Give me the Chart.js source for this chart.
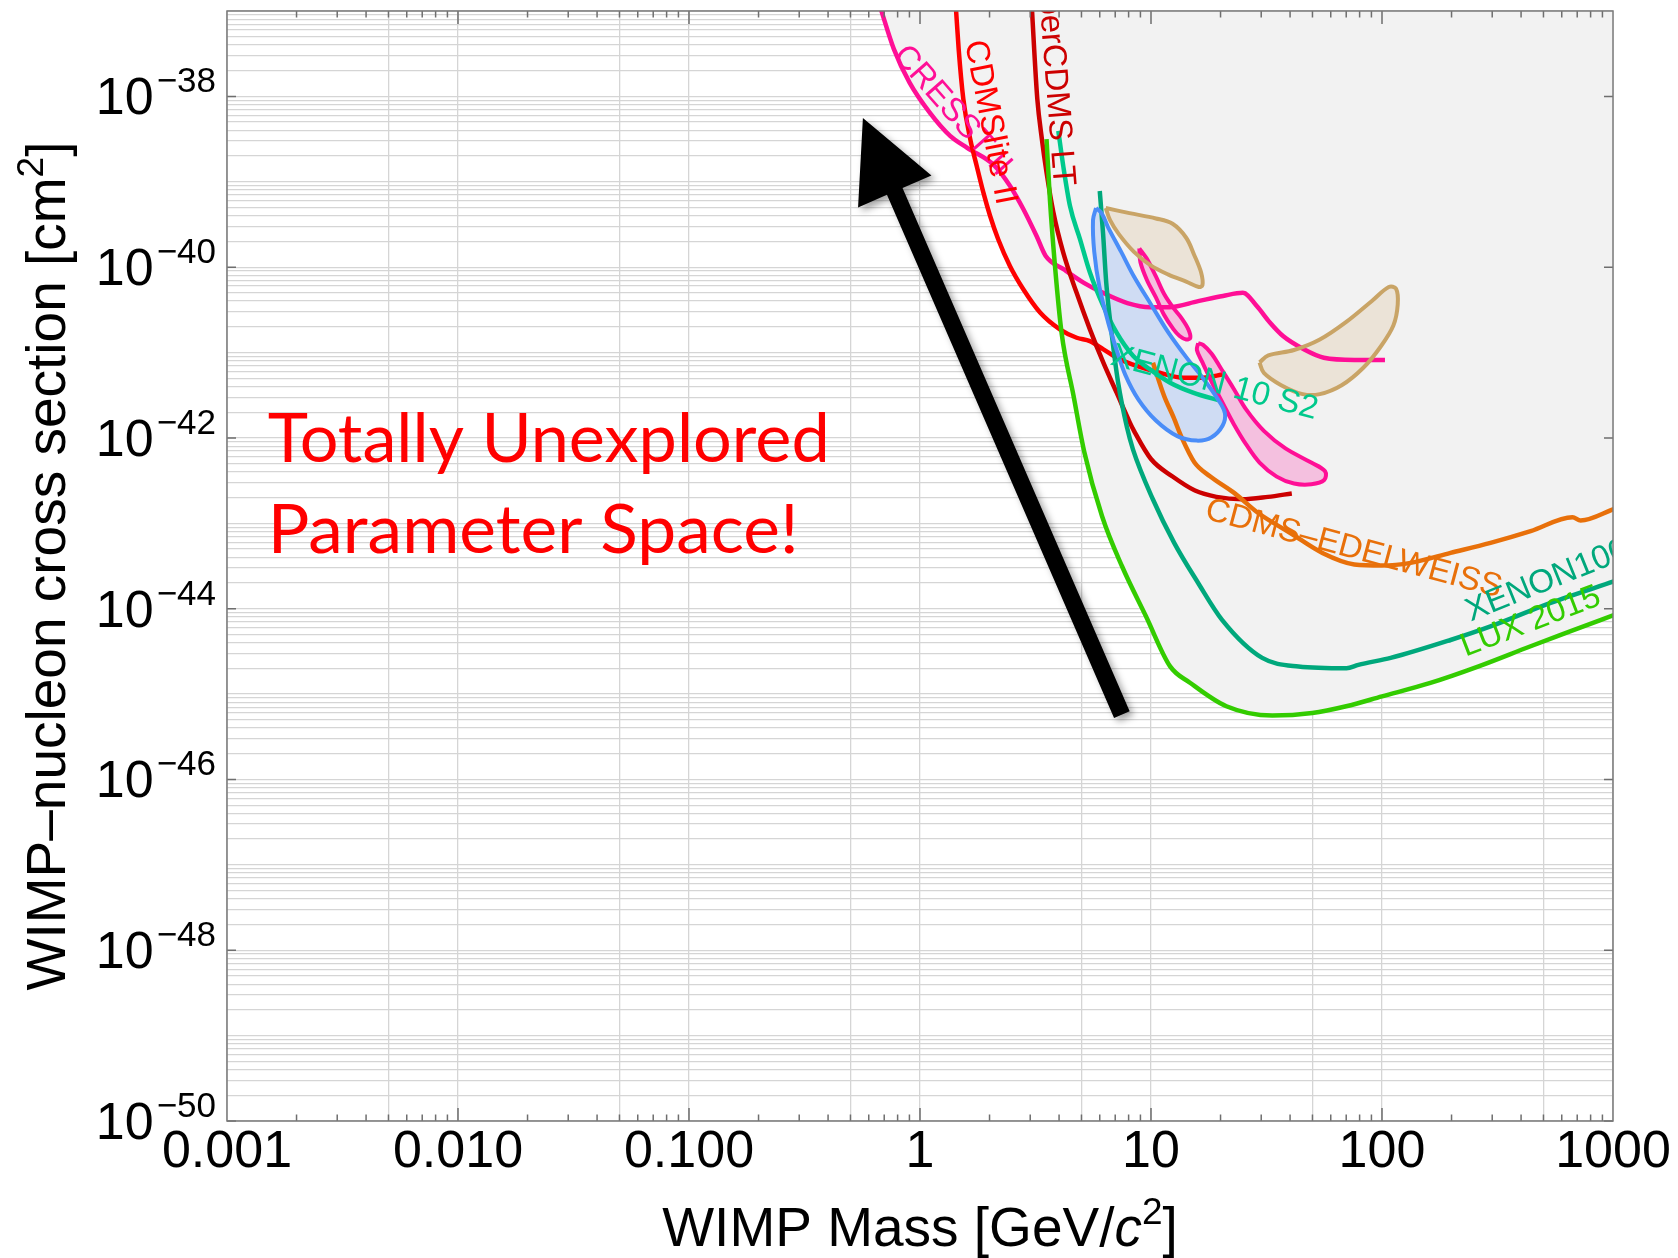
<!DOCTYPE html>
<html>
<head>
<meta charset="utf-8">
<script src="https://cdn.jsdelivr.net/npm/chart.js@4.4.1/dist/chart.umd.min.js"></script>
<style>
  html, body { margin: 0; padding: 0; background: #fff; }
</style>
</head>
<body>
<canvas id="chart" width="1678" height="1258"></canvas>
<script>
// tick labels
const xTickValues = [0.001, 0.01, 0.1, 1, 10, 100, 1000];
const xTickLabels = ['0.001', '0.010', '0.100', '1', '10', '100', '1000'];
const yTickValues = [1e-38, 1e-40, 1e-42, 1e-44, 1e-46, 1e-48, 1e-50];
const yTickExponents = ['\u221238', '\u221240', '\u221242', '\u221244', '\u221246', '\u221248', '\u221250'];

// exclusion limits: WIMP mass [GeV/c2] and cross section [cm2]
const cresstMass = [0.67, 0.77, 0.9, 1.1, 1.35, 1.6, 2.1, 2.45, 2.8, 3.2, 3.5, 4.2, 5.1, 6.2, 7.9, 9.9, 12, 16, 20.5, 25, 28.7, 32.7, 37.4, 45.7, 56, 76, 103];
const cresstSigma = [1.15e-37, 3.6e-38, 1.46e-38, 6.5e-39, 3.45e-39, 2.5e-39, 1.55e-39, 9e-40, 4.8e-40, 2.3e-40, 1.35e-40, 9.4e-41, 6.6e-41, 5e-41, 3.8e-41, 3.4e-41, 3.4e-41, 4e-41, 4.6e-41, 5e-41, 3.5e-41, 2.25e-41, 1.55e-41, 1.1e-41, 8.7e-42, 8.2e-42, 8.2e-42];

const cdmsliteMass = [1.43, 1.47, 1.54, 1.65, 1.76, 1.88, 2.01, 2.18, 2.45, 2.8, 3.31, 4.03, 4.77, 5.44, 6.22, 7.1, 8.67, 10.9, 13.8, 16.8, 20.6];
const cdmsliteSigma = [1.1e-37, 3.6e-38, 9.3e-39, 3.16e-39, 1.53e-39, 7.5e-40, 4e-40, 2.12e-40, 1.03e-40, 5.5e-41, 2.94e-41, 1.87e-41, 1.49e-41, 1.36e-41, 1.09e-41, 8.7e-42, 6.96e-42, 5.8e-42, 5.08e-42, 5.08e-42, 5.56e-42];

const scdmsMass = [3.05, 3.12, 3.22, 3.37, 3.53, 3.78, 4.17, 4.76, 5.44, 6.22, 7.1, 8.1, 8.44, 10.0, 12.4, 15.5, 19.2, 24.8, 32.1, 40.7];
const scdmsSigma = [1.1e-37, 3.6e-38, 9.3e-39, 3.16e-39, 1.29e-39, 4.37e-40, 1.48e-40, 5.04e-41, 1.87e-41, 7.6e-42, 3.39e-42, 1.51e-42, 1.21e-42, 5.66e-43, 3.53e-43, 2.42e-43, 2.04e-43, 1.91e-43, 2.04e-43, 2.24e-43];

const luxMass = [3.53, 3.65, 3.84, 4.1, 4.62, 5.14, 6.14, 7.49, 9.52, 12.1, 14.8, 21.2, 33.5, 49.9, 70, 100, 162, 262, 440, 656, 1016];
const luxSigma = [3.16e-39, 6.25e-40, 1.03e-40, 1.71e-41, 3.12e-42, 6.9e-43, 1.21e-43, 3.14e-44, 8.1e-45, 2.11e-45, 1.35e-45, 7.2e-46, 5.6e-46, 6.0e-46, 7.2e-46, 9.4e-46, 1.35e-45, 2.11e-45, 3.63e-45, 5.45e-45, 8.5e-45];

const x100Mass = [6.0, 6.2, 6.4, 6.75, 7.2, 7.87, 8.36, 10.2, 12.6, 16.0, 20.3, 30.3, 43.5, 70.2, 79, 109, 198, 295, 537, 1016];
const x100Sigma = [7.8e-40, 2.5e-40, 6.6e-41, 1.7e-41, 4.5e-42, 1.33e-42, 7.3e-43, 1.9e-43, 5.9e-44, 2.0e-44, 7.4e-45, 2.65e-45, 2.1e-45, 2.0e-45, 2.2e-45, 2.65e-45, 4.3e-45, 6.2e-45, 1.17e-44, 2.1e-44];

const x10Mass = [3.97, 4.17, 4.46, 4.93, 5.44, 6.22, 7.1, 8.38, 9.9, 12.1, 15.2, 20.2];
const x10Sigma = [3.95e-39, 1.53e-39, 5.2e-40, 2.12e-40, 8.65e-41, 3.5e-41, 1.71e-41, 9.1e-42, 6.35e-42, 4.43e-42, 3.39e-42, 2.7e-42];

const ceMass = [10.2, 11.4, 12.5, 13.6, 15.4, 18, 22.9, 29.1, 40.1, 55.2, 75.9, 100, 133, 198, 295, 440, 668, 724, 1016];
const ceSigma = [7.6e-42, 3.1e-42, 1.76e-42, 1.0e-42, 5.2e-43, 3.56e-43, 2.27e-43, 1.32e-43, 7.7e-44, 4.5e-44, 3.3e-44, 3.2e-44, 3.44e-44, 4.5e-44, 5.9e-44, 8.1e-44, 1.18e-43, 1.08e-43, 1.48e-43];

// signal regions (closed contours)
const siMass = [5.78, 5.61, 5.68, 5.98, 6.52, 7.1, 7.74, 8.81, 10.5, 13.0, 15.8, 18.3, 20.4, 20.9, 19.5, 16.8, 14.2, 11.9, 10.0, 8.44, 7.43, 6.52, 6.11, 5.78];
const siSigma = [4.93e-40, 3.55e-40, 1.51e-40, 5.86e-41, 2.27e-41, 1.07e-41, 5.48e-42, 2.83e-42, 1.6e-42, 1.05e-42, 9.3e-43, 1.02e-42, 1.39e-42, 1.94e-42, 2.83e-42, 4.99e-42, 8.83e-42, 1.71e-41, 3.66e-41, 7.78e-41, 1.51e-40, 2.93e-40, 4.29e-40, 4.93e-40];

const dama1Mass = [6.37, 8.07, 10.5, 12.4, 14.2, 15.4, 16.5, 16.7, 16.1, 14.2, 11.9, 10.0, 8.44, 7.27, 6.65, 6.37];
const dama1Sigma = [4.93e-40, 4.29e-40, 3.72e-40, 3.22e-40, 2.21e-40, 1.38e-40, 8.55e-41, 6.15e-41, 5.86e-41, 6.76e-41, 8.17e-41, 1.04e-40, 1.51e-40, 2.42e-40, 3.55e-40, 4.93e-40];

const dama2Mass = [29.5, 32.2, 41.6, 53.8, 69.8, 90.4, 107, 115, 117, 112, 98.6, 83, 66.9, 53.8, 45.3, 36.6, 30.8, 29.5];
const dama2Sigma = [7.66e-42, 9.25e-42, 1.07e-41, 1.42e-41, 2.27e-41, 4.02e-41, 5.86e-41, 5.6e-41, 3.66e-41, 2.07e-41, 1.17e-41, 6.64e-42, 4.14e-42, 3.26e-42, 3.26e-42, 4.14e-42, 5.77e-42, 7.66e-42];

const pink1Mass = [8.9, 9.6, 10.5, 11.4, 12.5, 13.6, 14.5, 14.8, 14.2, 13.3, 12.5, 11.4, 10.5, 9.6, 9.0, 8.9];
const pink1Sigma = [1.66e-40, 1.25e-40, 7.78e-41, 4.85e-41, 3.33e-41, 2.5e-41, 1.88e-41, 1.49e-41, 1.42e-41, 1.56e-41, 1.88e-41, 2.75e-41, 4.42e-41, 7.08e-41, 1.14e-40, 1.66e-40];

const pink2Mass = [16.0, 16.8, 18.3, 20.0, 22.8, 25.9, 30.8, 38.2, 49.4, 56.7, 56.2, 49.4, 41.6, 35.0, 29.5, 25.9, 22.8, 20.4, 18.3, 16.7, 15.8, 16.0];
const pink2Sigma = [1.29e-41, 1.23e-41, 9.7e-42, 6.64e-42, 3.77e-42, 2.13e-42, 1.21e-42, 7.53e-43, 5.15e-43, 4.07e-43, 3.21e-43, 2.86e-43, 2.92e-43, 3.52e-43, 5.15e-43, 8.28e-43, 1.46e-42, 2.58e-42, 4.55e-42, 7.66e-42, 1.07e-41, 1.29e-41];

const MAGENTA = '#ff0f96', RED = '#ff0000', DARKRED = '#cc0000', LUXGREEN = '#33cc00',
      X100 = '#00a87c', X10 = '#00c98c', ORANGE = '#e8700a';
const FONT = '"Liberation Sans", Arial, sans-serif';

// annotations (placed in data coordinates)
const curveLabels = [
  { text: 'CRESST II', m: 0.757, s: 2.96e-38, angle: 48.7, color: MAGENTA },
  { text: 'CDMSlite II', m: 1.567, s: 4.3e-38, angle: 79, color: RED },
  { text: 'SuperCDMS LT', m: 3.18, s: 4.3e-37, angle: 85.5, color: DARKRED },
  { text: 'XENON 10 S2', m: 6.6, s: 7.3e-42, angle: 15, color: X10 },
  { text: 'CDMS\u2013EDELWEISS', m: 16.9, s: 1.14e-43, angle: 15, color: ORANGE },
  { text: 'XENON100', m: 242, s: 7.06e-45, angle: -22, color: X100 },
  { text: 'LUX 2015', m: 230, s: 2.74e-45, angle: -21, color: LUXGREEN }
];
const arrowTail = { m: 7.48, s: 5.73e-46 };
const arrowTip = { m: 0.566, s: 5.57e-39 };
const bigText = [
  { text: 'Totally Unexplored', m: 0.0015, s: 5.16e-43, width: 562 },
  { text: 'Parameter Space!', m: 0.0015, s: 4.55e-44, width: 531 }
];

function decadeTicks(fromExp, toExp) {
  const out = [];
  for (let e = fromExp; e <= toExp; e++) {
    for (let k = 1; k <= 9; k++) out.push(Number((k * Math.pow(10, e)).toPrecision(6)));
  }
  out.push(Math.pow(10, toExp + 1));
  return out;
}
const significand = v => Math.round(v / Math.pow(10, Math.floor(Math.log10(v) + 1e-9)));
const pts = (ms, ss) => ms.map((m, i) => ({ x: m, y: ss[i] }));

const limit = (label, ms, ss, color, grey) => ({
  label, data: pts(ms, ss), borderColor: color, borderWidth: 4.5, pointRadius: 0,
  cubicInterpolationMode: 'monotone',
  fill: grey ? 'end' : false, backgroundColor: grey ? '#f2f2f2' : 'transparent'
});
const region = (label, ms, ss, line, fillColor) => ({
  label, data: pts(ms, ss), borderColor: line, borderWidth: 4, pointRadius: 0,
  tension: 0.35, fill: 'shape', backgroundColor: fillColor
});

const decor = {
  id: 'decor',
  afterDatasetsDraw(chart) {
    const { ctx, chartArea: a, scales: { x, y } } = chart;
    ctx.save();
    ctx.beginPath();
    ctx.rect(a.left, a.top, a.right - a.left, a.bottom - a.top);
    ctx.clip();
    ctx.font = '33px ' + FONT;
    ctx.textAlign = 'left';
    ctx.textBaseline = 'alphabetic';
    curveLabels.forEach(l => {
      ctx.save();
      ctx.translate(x.getPixelForValue(l.m), y.getPixelForValue(l.s));
      ctx.rotate(l.angle * Math.PI / 180);
      ctx.fillStyle = l.color;
      ctx.fillText(l.text, 0, 0);
      ctx.restore();
    });

    // red annotation
    ctx.fillStyle = '#ff0000';
    ctx.font = '67px Lato, "Open Sans", sans-serif';
    bigText.forEach(t => {
      const w = ctx.measureText(t.text).width;
      ctx.save();
      ctx.translate(x.getPixelForValue(t.m), y.getPixelForValue(t.s));
      ctx.scale(t.width / w, 1);
      ctx.fillText(t.text, 0, 0);
      ctx.restore();
    });

    // black arrow
    const x0 = x.getPixelForValue(arrowTail.m), y0 = y.getPixelForValue(arrowTail.s);
    const x1 = x.getPixelForValue(arrowTip.m), y1 = y.getPixelForValue(arrowTip.s);
    const len = Math.hypot(x1 - x0, y1 - y0);
    const ux = (x1 - x0) / len, uy = (y1 - y0) / len, px = -uy, py = ux;
    const headLen = 80, headHalf = 40, half = 8.5;
    const bx = x1 - ux * headLen, by = y1 - uy * headLen;
    ctx.shadowColor = 'rgba(0,0,0,0.35)';
    ctx.shadowBlur = 7;
    ctx.shadowOffsetX = 4;
    ctx.shadowOffsetY = 4;
    ctx.fillStyle = '#000';
    ctx.beginPath();
    ctx.moveTo(x0 + px * half, y0 + py * half);
    ctx.lineTo(bx + px * half, by + py * half);
    ctx.lineTo(bx + px * headHalf, by + py * headHalf);
    ctx.lineTo(x1, y1);
    ctx.lineTo(bx - px * headHalf, by - py * headHalf);
    ctx.lineTo(bx - px * half, by - py * half);
    ctx.lineTo(x0 - px * half, y0 - py * half);
    ctx.closePath();
    ctx.fill();
    ctx.restore();
  },
  afterDraw(chart) {
    const { ctx, chartArea: a, scales: { x, y } } = chart;
    ctx.save();
    // frame and inward ticks
    ctx.strokeStyle = '#6e6e6e';
    ctx.lineWidth = 1.5;
    ctx.beginPath();
    x.ticks.forEach(t => {
      const v = t.value;
      if (v <= 0.001 || v >= 1000) return;
      const p = x.getPixelForValue(v);
      const l = significand(v) === 1 ? 13 : 6.5;
      ctx.moveTo(p, a.bottom); ctx.lineTo(p, a.bottom - l);
      ctx.moveTo(p, a.top); ctx.lineTo(p, a.top + l);
    });
    yTickValues.forEach(v => {
      const p = y.getPixelForValue(v);
      ctx.moveTo(a.left, p); ctx.lineTo(a.left + 9, p);
      ctx.moveTo(a.right, p); ctx.lineTo(a.right - 9, p);
    });
    ctx.stroke();
    ctx.strokeStyle = '#7a7a7a';
    ctx.strokeRect(a.left, a.top, a.right - a.left, a.bottom - a.top);

    // y tick labels 10^n
    ctx.fillStyle = '#000';
    ctx.textAlign = 'right';
    ctx.textBaseline = 'alphabetic';
    yTickValues.forEach((v, i) => {
      const p = y.getPixelForValue(v);
      const supRight = a.left - 11;
      ctx.font = '35px ' + FONT;
      const supW = ctx.measureText(yTickExponents[i]).width;
      ctx.fillText(yTickExponents[i], supRight, p - 4);
      ctx.font = '52px ' + FONT;
      ctx.fillText('10', supRight - supW - 3, p + 18);
    });

    // axis titles
    const drawParts = (parts, cx, base) => {
      let total = 0;
      parts.forEach(pt => { ctx.font = pt.font; pt.w = ctx.measureText(pt.t).width; total += pt.w; });
      let cur = cx - total / 2;
      ctx.textAlign = 'left';
      parts.forEach(pt => { ctx.font = pt.font; ctx.fillText(pt.t, cur, base + (pt.dy || 0)); cur += pt.w; });
    };
    const reg = '55px ' + FONT, ital = 'italic 55px ' + FONT, sup = '37px ' + FONT;
    drawParts([
      { t: 'WIMP Mass [GeV/', font: reg },
      { t: 'c', font: ital },
      { t: '2', font: sup, dy: -22 },
      { t: ']', font: reg }
    ], (a.left + a.right) / 2, 1246);

    ctx.save();
    ctx.translate(65, (a.top + a.bottom) / 2);
    ctx.rotate(-Math.PI / 2);
    drawParts([
      { t: 'WIMP\u2013nucleon cross section [cm', font: reg },
      { t: '2', font: sup, dy: -22 },
      { t: ']', font: reg }
    ], 0, 0);
    ctx.restore();
    ctx.restore();
  }
};

new Chart(document.getElementById('chart').getContext('2d'), {
  type: 'line',
  data: {
    datasets: [
      region('CDMS-Si', siMass, siSigma, '#4a8df8', '#cfdcf3'),
      region('DAMA 1', dama1Mass, dama1Sigma, '#c9a466', '#ebe3d7'),
      region('DAMA 2', dama2Mass, dama2Sigma, '#c9a466', '#ebe3d7'),
      region('CRESST 1', pink1Mass, pink1Sigma, MAGENTA, '#f4c0df'),
      region('CRESST 2', pink2Mass, pink2Sigma, MAGENTA, '#f4c0df'),
      limit('LUX 2015', luxMass, luxSigma, LUXGREEN, true),
      limit('XENON100', x100Mass, x100Sigma, X100, false),
      limit('XENON10 S2', x10Mass, x10Sigma, X10, false),
      limit('CDMS-EDELWEISS', ceMass, ceSigma, ORANGE, false),
      limit('SuperCDMS LT', scdmsMass, scdmsSigma, DARKRED, false),
      limit('CDMSlite II', cdmsliteMass, cdmsliteSigma, RED, true),
      limit('CRESST II', cresstMass, cresstSigma, MAGENTA, true)
    ]
  },
  options: {
    responsive: false,
    animation: false,
    devicePixelRatio: 1,
    layout: { padding: { left: 0, right: 65, top: 11, bottom: 0 } },
    plugins: {
      legend: { display: false },
      tooltip: { enabled: false },
      filler: { drawTime: 'beforeDatasetsDraw' }
    },
    scales: {
      x: {
        type: 'logarithmic',
        min: 0.001,
        max: 1000,
        afterBuildTicks: s => { s.ticks = decadeTicks(-3, 2).map(v => ({ value: v })); },
        afterFit: s => { s.height = 137; },
        border: { display: false },
        grid: {
          drawTicks: false,
          lineWidth: 1.3,
          color: c => {
            const k = c.tick ? significand(c.tick.value) : 0;
            return (k === 1 || k === 5) ? '#d5d5d5' : 'rgba(0,0,0,0)';
          }
        },
        ticks: {
          autoSkip: false,
          maxRotation: 0,
          padding: 0,
          color: '#000',
          font: { family: FONT, size: 52 },
          callback: v => {
            const i = xTickValues.findIndex(t => Math.abs(t - v) / t < 1e-6);
            return i >= 0 ? xTickLabels[i] : '';
          }
        }
      },
      y: {
        type: 'logarithmic',
        min: 1e-50,
        max: 1e-37,
        afterBuildTicks: s => { s.ticks = decadeTicks(-50, -38).map(v => ({ value: v })); },
        afterFit: s => { s.width = 227; },
        border: { display: false },
        grid: { drawTicks: false, lineWidth: 1.3, color: '#d5d5d5' },
        ticks: { display: false }
      }
    }
  },
  plugins: [decor]
});
</script>
</body>
</html>
